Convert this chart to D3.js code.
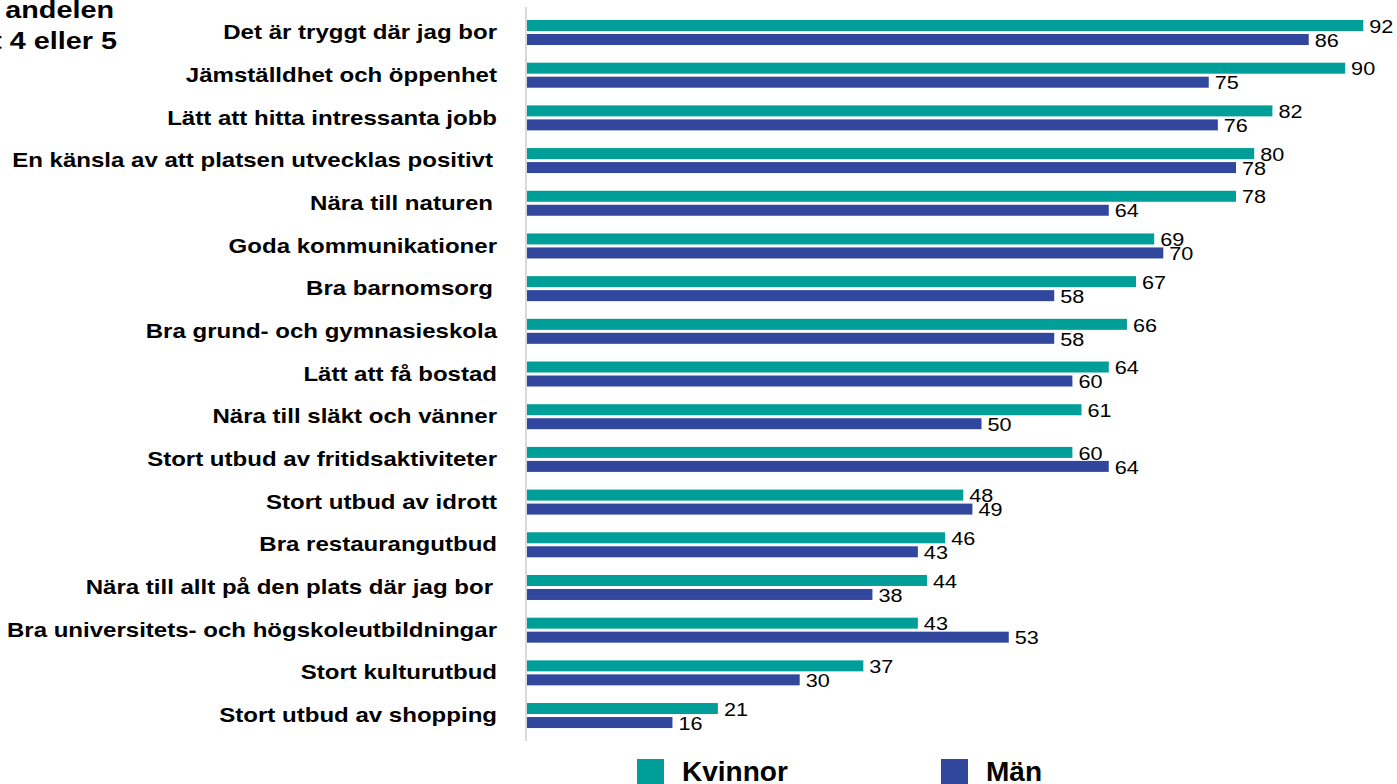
<!DOCTYPE html>
<html>
<head>
<meta charset="utf-8">
<script src="https://cdn.jsdelivr.net/npm/d3@7"></script>
<style>
  body { margin: 0; background: #fff; }
  svg { display: block; }
  text { font-family: "Liberation Sans", Arial, sans-serif; white-space: pre; }
</style>
</head>
<body>
<svg id="chart" width="1397" height="784"></svg>
<script>
// kategorier uppifrån och ned
var categories = [
  "Det är tryggt där jag bor",
  "Jämställdhet och öppenhet",
  "Lätt att hitta intressanta jobb",
  "En känsla av att platsen utvecklas positivt ",
  "Nära till naturen ",
  "Goda kommunikationer",
  "Bra barnomsorg ",
  "Bra grund- och gymnasieskola",
  "Lätt att få bostad",
  "Nära till släkt och vänner",
  "Stort utbud av fritidsaktiviteter",
  "Stort utbud av idrott",
  "Bra restaurangutbud",
  "Nära till allt på den plats där jag bor ",
  "Bra universitets- och högskoleutbildningar",
  "Stort kulturutbud",
  "Stort utbud av shopping"
];
var kvinnor = [92, 90, 82, 80, 78, 69, 67, 66, 64, 61, 60, 48, 46, 44, 43, 37, 21];
var man     = [86, 75, 76, 78, 64, 70, 58, 58, 60, 50, 64, 49, 43, 38, 53, 30, 16];
var seriesNames = ["Kvinnor", "Män"];
var colors = ["#009e99", "#31479e"];
var titleLines = ["Hur viktigt är följande? Diagrammet visar andelen", "som svarat 4 eller 5"];

var svg = d3.select("#chart");

var x = d3.scaleLinear().domain([0, 100]).range([527, 1436]);
var y = d3.scaleBand().domain(categories).range([11, 11 + 17 * 42.69]);
var ySub = d3.scaleBand().domain(seriesNames).range([9, 34]).paddingInner(0.2143);

// text med lite bredare glyfer, som i originalet
function stretched(sel, sx){
  sel.attr("transform", function(){
    var t = d3.select(this);
    return "translate(" + t.attr("data-x") + "," + t.attr("data-y") + ") scale(" + sx + ",1)";
  });
}

// rubrik (beskuren i vänsterkanten)
svg.selectAll("text.title").data(titleLines).enter().append("text")
  .attr("class", "title")
  .attr("data-x", function(d, i){ return i ? 117 : 114; })
  .attr("data-y", function(d, i){ return 18 + i * 31; })
  .attr("text-anchor", "end")
  .attr("font-size", "24px").attr("font-weight", 700)
  .attr("fill", "#000")
  .text(function(d){ return d; })
  .call(stretched, 1.2);

// axellinje
svg.append("line")
  .attr("x1", 526).attr("x2", 526)
  .attr("y1", 7).attr("y2", 741)
  .attr("stroke", "#d9d9d9").attr("stroke-width", 2);

var rows = categories.map(function(c, i){
  return { cat: c, values: [kvinnor[i], man[i]] };
});

var g = svg.selectAll("g.row").data(rows).enter().append("g")
  .attr("class", "row")
  .attr("transform", function(d){ return "translate(0," + y(d.cat) + ")"; });

// etiketter med avslutande mellanslag hamnar lite till vänster
g.append("text")
  .attr("data-x", function(d){ return /\s$/.test(d.cat) ? 493 : 497; })
  .attr("data-y", y.bandwidth() / 2 + 6.8)
  .attr("text-anchor", "end")
  .attr("font-size", "21px").attr("font-weight", 700)
  .attr("fill", "#000")
  .text(function(d){ return d.cat.trim(); })
  .call(stretched, 1.145);

g.selectAll("rect").data(function(d){ return d.values; }).enter().append("rect")
  .attr("x", x(0))
  .attr("y", function(d, i){ return ySub(seriesNames[i]); })
  .attr("width", function(d){ return x(d) - x(0); })
  .attr("height", ySub.bandwidth())
  .attr("fill", function(d, i){ return colors[i]; });

g.selectAll("text.val").data(function(d){ return d.values; }).enter().append("text")
  .attr("class", "val")
  .attr("data-x", function(d){ return x(d) + 6; })
  .attr("data-y", function(d, i){ return ySub(seriesNames[i]) + ySub.bandwidth() / 2 + 7.2; })
  .attr("font-size", "18.5px")
  .attr("fill", "#000")
  .text(function(d){ return d; })
  .call(stretched, 1.17);

// förklaring
var legendX = [637, 941];
var lg = svg.selectAll("g.legend").data(seriesNames).enter().append("g")
  .attr("class", "legend")
  .attr("transform", function(d, i){ return "translate(" + legendX[i] + ",759)"; });
lg.append("rect")
  .attr("width", 27).attr("height", 27)
  .attr("fill", function(d, i){ return colors[i]; });
lg.append("text")
  .attr("x", 45).attr("y", 22)
  .attr("font-size", "28px").attr("font-weight", 700)
  .attr("fill", "#000")
  .text(function(d){ return d; });
</script>
</body>
</html>
